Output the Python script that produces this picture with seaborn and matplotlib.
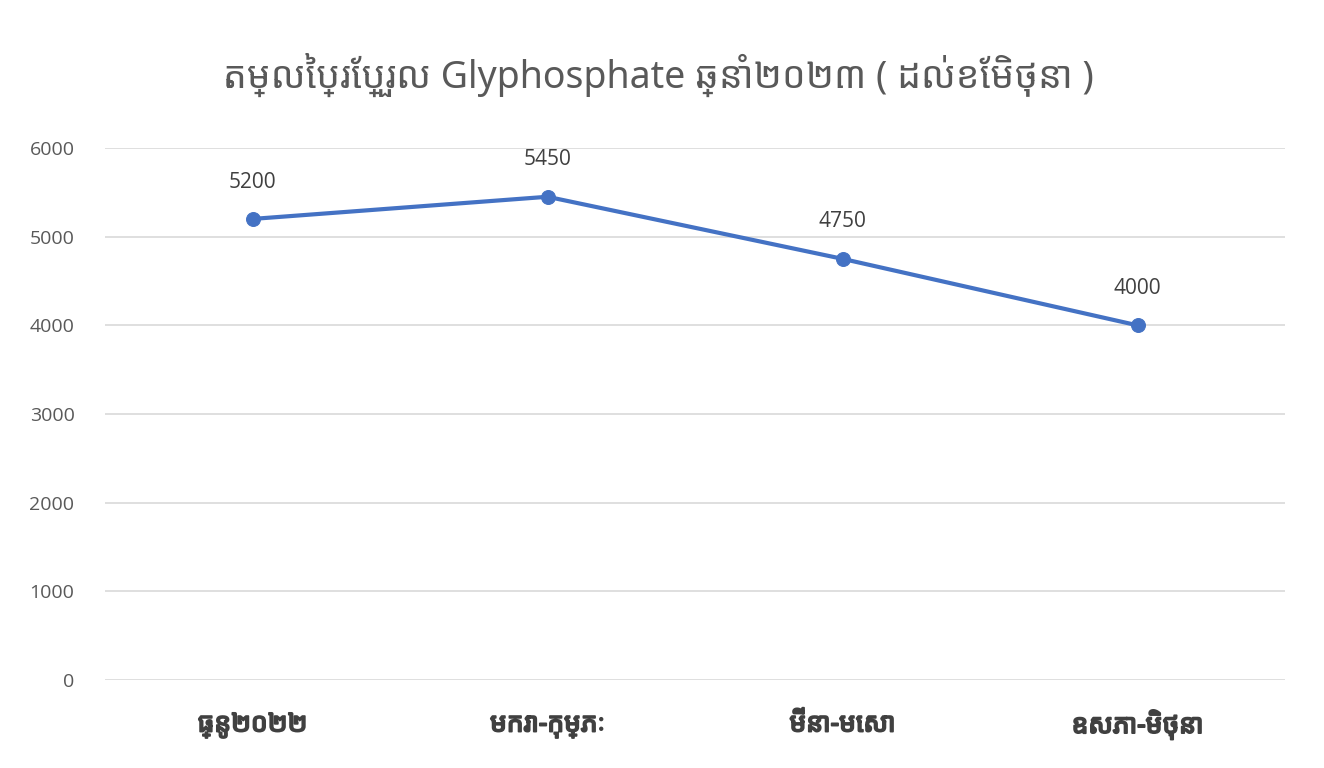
import matplotlib
matplotlib.use("Agg")
import matplotlib.pyplot as plt
import matplotlib.patheffects as pe
import seaborn as sns
import pandas as pd

# data
categories = ["ធ្នូ២០២២", "មករា-កុម្ភៈ", "មីនា-មេសា", "ឧសភា-មិថុនា"]
prices = [5200, 5450, 4750, 4000]
yticks = [0, 1000, 2000, 3000, 4000, 5000, 6000]
title = "តម្លៃប្រែប្រួល Glyphosphate ឆ្នាំ២០២៣ ( ដល់ខែមិថុនា )"

LINE_COLOR = "#4472C4"
TEXT_GREY = "#595959"
LABEL_DARK = "#404040"

sns.set_theme(style="white")
# Khmer glyphs first, Latin/digits fall through to Open Sans
plt.rcParams["font.family"] = ["Noto Sans Khmer", "Open Sans", "DejaVu Sans"]

df = pd.DataFrame({"period": categories, "price": prices})

fig = plt.figure(figsize=(13.24, 7.68), dpi=100)
ax = fig.add_axes([105 / 1324, 1 - 680 / 768, 1180 / 1324, 532 / 768])
sns.lineplot(data=df, x="period", y="price", sort=False, ax=ax,
             color=LINE_COLOR, linewidth=3, marker="o", markersize=10,
             markeredgecolor=LINE_COLOR)

ax.set_xlim(-0.5, 3.5)
ax.set_ylim(0, 6000)
ax.set_yticks(yticks)
ax.set_yticklabels([str(v) for v in yticks], color=TEXT_GREY, fontsize=14,
                   family=["Open Sans"])
ax.set_xticks(range(len(categories)))
ax.set_xticklabels(categories, fontsize=19, color=LABEL_DARK)
# variable Khmer font ignores weight, so thicken the strokes instead
for t in ax.get_xticklabels():
    t.set_path_effects([pe.withStroke(linewidth=1.3, foreground=LABEL_DARK)])
ax.tick_params(axis="y", length=0, pad=22)
ax.tick_params(axis="x", length=0, pad=22)
ax.grid(axis="y", color="#D9D9D9", linewidth=1.2)
for s in ax.spines.values():
    s.set_visible(False)
ax.set_xlabel("")
ax.set_ylabel("")

for i, v in enumerate(prices):
    ax.annotate(str(v), (i, v), xytext=(0, 19), textcoords="offset points",
                ha="center", va="bottom", fontsize=15, color=LABEL_DARK,
                family=["Open Sans"])

fig.text(658 / 1324, 1 - 75 / 768, title, ha="center", va="center",
         fontsize=27, color=TEXT_GREY)

fig.savefig("out.png", dpi=100, facecolor="white")
